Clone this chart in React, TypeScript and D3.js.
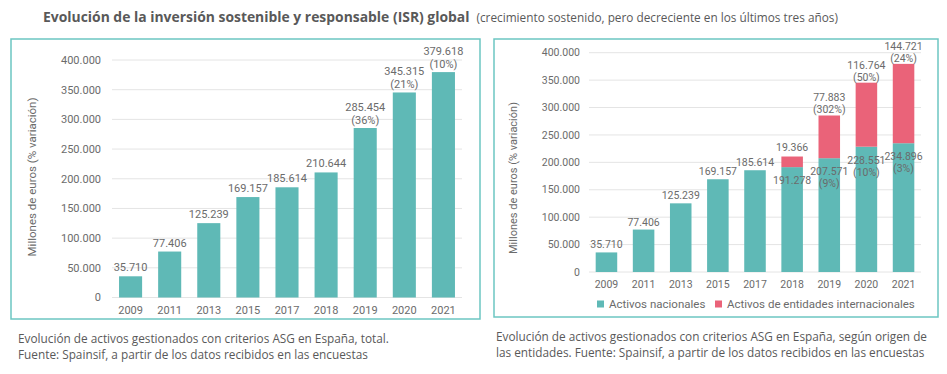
import React, { useEffect, useRef } from "react";
import * as d3 from "d3";

// datos de los dos gráficos
const years = ["2009", "2011", "2013", "2015", "2017", "2018", "2019", "2020", "2021"];
const totalValues = [35710, 77406, 125239, 169157, 185614, 210644, 285454, 345315, 379618];
const totalPct = ["", "", "", "", "", "", "(36%)", "(21%)", "(10%)"];
const nationalValues = [35710, 77406, 125239, 169157, 185614, 191278, 207571, 228551, 234896];
const nationalPct = ["", "", "", "", "", "", "(9%)", "(10%)", "(3%)"];
const internationalValues = [0, 0, 0, 0, 0, 19366, 77883, 116764, 144721];
const internationalPct = ["", "", "", "", "", "", "(302%)", "(50%)", "(24%)"];
const yTicks = [0, 50000, 100000, 150000, 200000, 250000, 300000, 350000, 400000];

const TEAL = "#5fb9b6";
const RED = "#ea6379";
const BORDER = "#6cc6c2";
const TEXT = "#6b6b6b";

const fmt = (v: number) => (v === 0 ? "0" : d3.format(",")(v).replace(/,/g, "."));

function drawAxes(g: any, x: any, y: any, tickX: number, yearY: number, fs: number, titleX: number, titleY: number) {
  const [x0, x1] = x.range();
  g.selectAll(".grid")
    .data(yTicks)
    .enter()
    .append("line")
    .attr("x1", x0)
    .attr("x2", x1)
    .attr("y1", (d: number) => y(d))
    .attr("y2", (d: number) => y(d))
    .attr("stroke", "#e4e4e4")
    .attr("stroke-width", 1);

  g.selectAll(".tick")
    .data(yTicks)
    .enter()
    .append("text")
    .attr("x", tickX)
    .attr("y", (d: number) => y(d))
    .attr("dy", "0.35em")
    .attr("text-anchor", "end")
    .attr("font-size", fs)
    .attr("fill", TEXT)
    .text((d: number) => fmt(d));

  g.selectAll(".year")
    .data(years)
    .enter()
    .append("text")
    .attr("x", (d: string) => x(d) + x.bandwidth() / 2)
    .attr("y", yearY)
    .attr("text-anchor", "middle")
    .attr("font-size", fs)
    .attr("fill", TEXT)
    .text((d: string) => d);

  g.append("text")
    .attr("transform", `translate(${titleX},${titleY}) rotate(-90)`)
    .attr("text-anchor", "middle")
    .attr("dy", "0.35em")
    .attr("font-size", fs + 0.5)
    .attr("fill", TEXT)
    .text("Millones de euros (% variación)");
}

export default function App() {
  const svgRef = useRef<SVGSVGElement>(null);

  useEffect(() => {
    const svg = d3.select(svgRef.current);
    svg.selectAll("*").remove();

    // título
    const title = svg.append("text").attr("x", 43).attr("y", 22).attr("font-family", "'Open Sans', sans-serif");
    title
      .append("tspan")
      .attr("font-size", 13.9)
      .attr("font-weight", "bold")
      .attr("fill", "#595959")
      .text("Evolución de la inversión sostenible y responsable (ISR) global");
    title
      .append("tspan")
      .attr("dx", 7)
      .attr("font-size", 11.8)
      .attr("fill", "#595959")
      .text("(crecimiento sostenido, pero decreciente en los últimos tres años)");

    // marcos
    svg.append("rect").attr("x", 11).attr("y", 39).attr("width", 469).attr("height", 280)
      .attr("fill", "none").attr("stroke", BORDER).attr("stroke-width", 1.5);
    svg.append("rect").attr("x", 494).attr("y", 39).attr("width", 444).attr("height", 278)
      .attr("fill", "none").attr("stroke", BORDER).attr("stroke-width", 1.5);

    // gráfico izquierdo: total
    const left = svg.append("g").attr("font-family", "Roboto, sans-serif");
    const xL = d3.scaleBand().domain(years).range([112, 462]).paddingInner(0.41).paddingOuter(0.18);
    const yL = d3.scaleLinear().domain([0, 400000]).range([297.5, 60]);
    drawAxes(left, xL, yL, 101, 314, 11, 32, 177);

    left.selectAll(".bar")
      .data(totalValues)
      .enter()
      .append("rect")
      .attr("x", (d, i) => xL(years[i])!)
      .attr("width", xL.bandwidth())
      .attr("y", (d) => yL(d))
      .attr("height", (d) => yL(0) - yL(d))
      .attr("fill", TEAL);

    totalValues.forEach((v, i) => {
      const cx = xL(years[i])! + xL.bandwidth() / 2;
      const top = yL(v);
      const t = left.append("text").attr("text-anchor", "middle").attr("font-size", 11).attr("fill", TEXT);
      if (totalPct[i]) {
        t.append("tspan").attr("x", cx).attr("y", top - 17).text(fmt(v));
        t.append("tspan").attr("x", cx).attr("y", top - 4).text(totalPct[i]);
      } else {
        t.attr("x", cx).attr("y", top - 5).text(fmt(v));
      }
    });

    // gráfico derecho: según origen
    const right = svg.append("g").attr("font-family", "Roboto, sans-serif");
    const xR = d3.scaleBand().domain(years).range([589, 921]).paddingInner(0.42).paddingOuter(0.18);
    const yR = d3.scaleLinear().domain([0, 400000]).range([272, 52.7]);
    drawAxes(right, xR, yR, 580, 288, 10.5, 513, 178);

    right.selectAll(".nat")
      .data(nationalValues)
      .enter()
      .append("rect")
      .attr("x", (d, i) => xR(years[i])!)
      .attr("width", xR.bandwidth())
      .attr("y", (d) => yR(d))
      .attr("height", (d) => yR(0) - yR(d))
      .attr("fill", TEAL);

    right.selectAll(".int")
      .data(internationalValues)
      .enter()
      .append("rect")
      .attr("x", (d, i) => xR(years[i])!)
      .attr("width", xR.bandwidth())
      .attr("y", (d, i) => yR(d + nationalValues[i]))
      .attr("height", (d) => yR(0) - yR(d))
      .attr("fill", RED);

    nationalValues.forEach((v, i) => {
      const cx = xR(years[i])! + xR.bandwidth() / 2;
      const top = yR(v);
      const t = right.append("text").attr("text-anchor", "middle").attr("font-size", 10.5).attr("fill", TEXT);
      if (internationalValues[i] === 0) {
        t.attr("x", cx).attr("y", top - 4).text(fmt(v));
      } else if (nationalPct[i]) {
        t.append("tspan").attr("x", cx).attr("y", top + 17).text(fmt(v));
        t.append("tspan").attr("x", cx).attr("y", top + 29).text(nationalPct[i]);
      } else {
        t.attr("x", cx).attr("y", top + 17).text(fmt(v));
      }
    });

    internationalValues.forEach((v, i) => {
      if (v === 0) return;
      const cx = xR(years[i])! + xR.bandwidth() / 2;
      const top = yR(v + nationalValues[i]);
      const t = right.append("text").attr("text-anchor", "middle").attr("font-size", 10.5).attr("fill", TEXT);
      if (internationalPct[i]) {
        t.append("tspan").attr("x", cx).attr("y", top - 14).text(fmt(v));
        t.append("tspan").attr("x", cx).attr("y", top - 2).text(internationalPct[i]);
      } else {
        t.attr("x", cx).attr("y", top - 6).text(fmt(v));
      }
    });

    // leyenda
    const legend = [
      { label: "Activos nacionales", color: TEAL, x: 597 },
      { label: "Activos de entidades internacionales", color: RED, x: 715 },
    ];
    legend.forEach((l) => {
      right.append("rect").attr("x", l.x).attr("y", 300.5).attr("width", 7).attr("height", 7).attr("fill", l.color);
      right.append("text").attr("x", l.x + 12).attr("y", 308).attr("font-size", 11.5).attr("fill", TEXT).text(l.label);
    });

    // pies de figura
    const captions = [
      { x: 18, y: 343, text: "Evolución de activos gestionados con criterios ASG en España, total." },
      { x: 18, y: 359, text: "Fuente: Spainsif, a partir de los datos recibidos en las encuestas" },
      { x: 496, y: 341, text: "Evolución de activos gestionados con criterios ASG en España, según origen de" },
      { x: 496, y: 357, text: "las entidades. Fuente: Spainsif, a partir de los datos recibidos en las encuestas" },
    ];
    svg.selectAll(".caption")
      .data(captions)
      .enter()
      .append("text")
      .attr("x", (d) => d.x)
      .attr("y", (d) => d.y)
      .attr("font-family", "'Open Sans', sans-serif")
      .attr("font-size", 11.8)
      .attr("fill", "#595959")
      .text((d) => d.text);
  }, []);

  return (
    <svg
      ref={svgRef}
      width={947}
      height={374}
      style={{ position: "absolute", left: 0, top: 0, background: "#fff" }}
    ></svg>
  );
}
